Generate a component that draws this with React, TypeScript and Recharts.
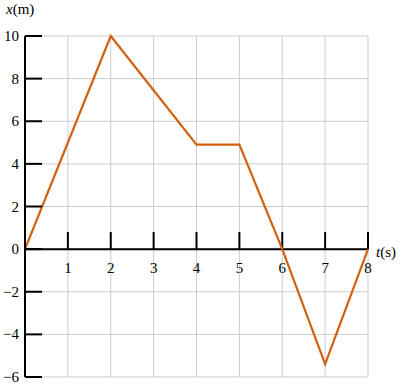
import { CartesianGrid, Line, LineChart, ReferenceLine, XAxis, YAxis } from "recharts"

const times = [0, 2, 4, 5, 6, 7, 8]
const positions = [0, 10, 4.9, 4.9, 0, -5.4, 0]
const xTicks = [0, 1, 2, 3, 4, 5, 6, 7, 8]
const yTicks = [-6, -4, -2, 0, 2, 4, 6, 8, 10]
const xLabelTicks = [1, 2, 3, 4, 5, 6, 7, 8]

const data = times.map((t, i) => ({ t, x: positions[i] }))

const font = "Liberation Serif, DejaVu Serif, serif"
const orange = "#d2600f"

function YTick(props: any) {
  const { x, y, payload } = props
  const v = payload.value
  const label = v < 0 ? `\u2212${Math.abs(v)}` : `${v}`
  return (
    <g>
      <line x1={x} x2={x + 17} y1={y} y2={y} stroke="#000" strokeWidth={2} />
      <text x={x - 6} y={y} dy="0.34em" textAnchor="end" style={{ fontSize: 15, fontFamily: font }} fill="#000">
        {label}
      </text>
    </g>
  )
}

export default function App() {
  return (
    <div style={{ position: "absolute", left: 0, top: 0, width: 400, height: 383, background: "#fff", fontFamily: font }}>
      <LineChart width={400} height={383} data={data} margin={{ top: 36, right: 32, bottom: 6, left: 0 }}>
        <CartesianGrid stroke="#cccccc" strokeWidth={1} />
        <XAxis dataKey="t" type="number" domain={[0, 8]} ticks={xTicks} hide />
        <YAxis
          type="number"
          domain={[-6, 10]}
          ticks={yTicks}
          width={25}
          tickSize={0}
          tickMargin={0}
          tickLine={false}
          axisLine={{ stroke: "#000", strokeWidth: 2 }}
          tick={<YTick />}
          interval={0}
        />
        <ReferenceLine y={0} stroke="#000" strokeWidth={2} />
        {xLabelTicks.map((k) => (
          <ReferenceLine
            key={k}
            segment={[
              { x: k, y: 0.8 },
              { x: k, y: 0 },
            ]}
            stroke="#000"
            strokeWidth={2}
            label={{ value: `${k}`, position: "bottom", offset: 13, fill: "#000", style: { fontSize: 15, fontFamily: font } }}
          />
        ))}
        <Line
          type="linear"
          dataKey="x"
          stroke={orange}
          strokeWidth={2.2}
          dot={false}
          isAnimationActive={false}
        />
      </LineChart>
      <svg width={400} height={383} style={{ position: "absolute", left: 0, top: 0, pointerEvents: "none" }}>
        <text x={6} y={14} style={{ fontSize: 15, fontFamily: font }} fill="#000">
          <tspan fontStyle="italic">x</tspan>(m)
        </text>
        <text x={376} y={257} style={{ fontSize: 15, fontFamily: font }} fill="#000">
          <tspan fontStyle="italic">t</tspan>(s)
        </text>
      </svg>
    </div>
  )
}
